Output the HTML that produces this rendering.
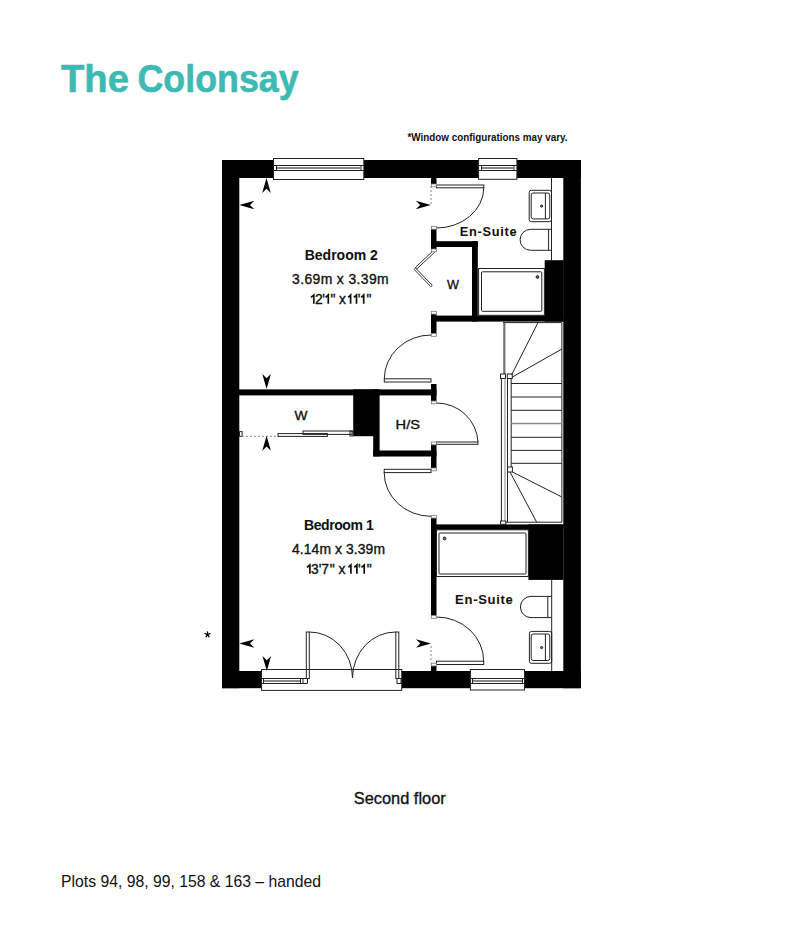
<!DOCTYPE html>
<html><head><meta charset="utf-8">
<style>
html,body{margin:0;padding:0;background:#fff;}
body{width:800px;height:950px;overflow:hidden;position:relative;}
svg{position:absolute;left:0;top:0;}
text{font-family:"Liberation Sans",sans-serif;}
</style></head>
<body>
<svg width="800" height="950" viewBox="0 0 800 950">
<!-- title -->
<text x="61" y="91.8" font-size="39.2" font-weight="bold" fill="#3fb9b3" stroke="#3fb9b3" stroke-width="0.6" textLength="68" lengthAdjust="spacingAndGlyphs">The</text>
<text x="137.5" y="91.8" font-size="39.2" font-weight="bold" fill="#3fb9b3" stroke="#3fb9b3" stroke-width="0.6" textLength="161.1" lengthAdjust="spacingAndGlyphs">Colonsay</text>
<text x="407.5" y="140.8" font-size="11" font-weight="bold" fill="#111" textLength="160" lengthAdjust="spacingAndGlyphs">*Window configurations may vary.</text>

<g id="walls" fill="#000">
  <!-- top wall -->
  <rect x="222" y="160" width="51.5" height="18"/>
  <rect x="363.8" y="160" width="115.2" height="18"/>
  <rect x="516.4" y="160" width="64.6" height="18"/>
  <!-- left wall -->
  <rect x="222" y="160" width="17.3" height="528.2"/>
  <!-- right wall -->
  <rect x="563.3" y="160" width="17.6" height="528.2"/>
  <!-- bottom wall -->
  <rect x="222" y="671" width="39.5" height="17.2"/>
  <rect x="401.7" y="671" width="68.7" height="17.2"/>
  <rect x="524.5" y="671" width="56.4" height="17.2"/>
  <!-- jambs on x 431-436.5 -->
  <rect x="431" y="177" width="5.5" height="7"/>
  <rect x="431" y="229" width="5.5" height="20"/>
  <rect x="431" y="314" width="5.5" height="19.5"/>
  <rect x="431" y="384" width="5.5" height="17"/>
  <rect x="431" y="445" width="5.5" height="23"/>
  <rect x="431" y="518" width="5.5" height="97.5"/>
  <rect x="431" y="666" width="5.5" height="6"/>
  <!-- wardrobe W top -->
  <rect x="436" y="241.2" width="41.8" height="5.8"/>
  <rect x="472" y="241.2" width="5.8" height="80.4"/>
  <rect x="436" y="315.6" width="127.5" height="6"/>
  <rect x="544.7" y="260.2" width="19" height="61.4"/>
  <!-- bedroom dividing wall -->
  <rect x="239" y="389.4" width="197.5" height="6"/>
  <rect x="353.2" y="389.4" width="25" height="46.8"/>
  <rect x="373.2" y="389.4" width="6.4" height="67"/>
  <rect x="373.2" y="450.5" width="63.3" height="6"/>
  <!-- bottom ensuite wall -->
  <rect x="436" y="524.4" width="127.5" height="5.4"/>
  <rect x="528.4" y="524.4" width="35" height="55.5"/>
</g>

<g id="thin" fill="none" stroke="#222" stroke-width="1">
  <!-- top windows -->
  <rect x="273.5" y="158.5" width="90.3" height="21" fill="#fff"/>
  <line x1="273.5" y1="165.5" x2="363.8" y2="165.5"/>
  <line x1="273.5" y1="170.5" x2="363.8" y2="170.5"/>
  <line x1="276.5" y1="165.5" x2="276.5" y2="170.5"/>
  <line x1="361" y1="165.5" x2="361" y2="170.5"/>
  <line x1="277" y1="168" x2="360.5" y2="168" stroke="#888" stroke-width="2"/>
  <rect x="478.6" y="158.5" width="38.3" height="20.8" fill="#fff"/>
  <line x1="478.6" y1="165.5" x2="516.9" y2="165.5"/>
  <line x1="478.6" y1="170.5" x2="516.9" y2="170.5"/>
  <line x1="481.5" y1="165.5" x2="481.5" y2="170.5"/>
  <line x1="514" y1="165.5" x2="514" y2="170.5"/>
  <line x1="482" y1="168" x2="513.5" y2="168" stroke="#888" stroke-width="2"/>
  <!-- bottom windows -->
  <rect x="470.4" y="669.5" width="54.1" height="20.5" fill="#fff"/>
  <line x1="470.4" y1="678.5" x2="524.5" y2="678.5"/>
  <line x1="470.4" y1="683.5" x2="524.5" y2="683.5"/>
  <line x1="472.5" y1="678.5" x2="472.5" y2="683.5"/>
  <line x1="522.5" y1="678.5" x2="522.5" y2="683.5"/>
  <line x1="473" y1="681" x2="522" y2="681" stroke="#888" stroke-width="2"/>
  <rect x="261.5" y="669.5" width="140.2" height="20.9" fill="#fff"/>
  <line x1="261.5" y1="678.5" x2="307.5" y2="678.5"/>
  <line x1="261.5" y1="683.5" x2="307.5" y2="683.5"/>
  <line x1="263.5" y1="678.5" x2="263.5" y2="683.5"/>
  <line x1="300.5" y1="678.5" x2="300.5" y2="683.5"/>
  <line x1="303" y1="678.5" x2="303" y2="683.5"/>
  <line x1="307.5" y1="678.5" x2="307.5" y2="683.5"/>
  <line x1="264" y1="681" x2="300" y2="681" stroke="#888" stroke-width="2"/>
  <rect x="397" y="678.5" width="4" height="5"/>
  <!-- french doors -->
  <rect x="306.3" y="632" width="3" height="46.5"/>
  <rect x="395.8" y="632" width="3" height="46.5"/>
  <path d="M309.3 632 A43 46 0 0 1 352.5 678"/>
  <path d="M395.8 632 A43 46 0 0 0 352.5 678"/>

  <!-- en-suite 1 door -->
  <rect x="436.5" y="185" width="47.3" height="2.8"/>
  <path d="M483.8 187.8 A47.3 40.5 0 0 1 436.5 228"/>
  <line x1="431" y1="186" x2="431" y2="204" stroke-dasharray="2 2" stroke="#888"/>
  <!-- bifold W door -->
  <polygon points="433.5,250.5 415.5,267.3 416.9,268.8 434.9,252" fill="#fff" stroke-width="0.9"/>
  <polygon points="415.5,268 432.3,285.3 430.9,286.7 414.1,269.4" fill="#fff" stroke-width="0.9"/>
  <!-- bedroom 2 door -->
  <rect x="384.3" y="378.8" width="46.7" height="3.2"/>
  <path d="M384.3 378.8 A46.7 44 0 0 1 431 335"/>
  <!-- H/S door -->
  <rect x="436.5" y="442" width="41.5" height="2.3"/>
  <path d="M436.5 403 A41.5 41 0 0 1 478 442"/>
  <!-- bedroom 1 door -->
  <rect x="384.2" y="469.3" width="46.8" height="3.3"/>
  <path d="M384.2 472.6 A46.8 43.7 0 0 0 431 516.3"/>
  <!-- en-suite 2 door -->
  <rect x="436.5" y="661.2" width="47.2" height="3.3"/>
  <path d="M436.5 617 A47.2 44.2 0 0 1 483.7 661.2"/>
  <line x1="431" y1="646" x2="431" y2="662" stroke-dasharray="2 2" stroke="#888"/>
  <!-- sliding wardrobe -->
  <rect x="278" y="433.6" width="49.4" height="2.8"/>
  <rect x="303" y="431" width="49" height="3.4"/>
  <rect x="239.5" y="431.6" width="2.6" height="4.7"/>
  <rect x="350" y="431" width="3" height="5"/>
  <line x1="242" y1="436.3" x2="276" y2="436.3" stroke-dasharray="2 2" stroke="#888"/>

  <!-- bath 1 -->
  <rect x="478.6" y="268.5" width="65.8" height="46.8"/>
  <rect x="481.5" y="271.8" width="60.3" height="39.5" rx="1"/>
  <circle cx="537.5" cy="277" r="1.4" fill="#777"/>
  <!-- bath 2 -->
  <rect x="436.5" y="529.8" width="91.9" height="46.7"/>
  <rect x="439" y="533" width="87" height="41" rx="1"/>
  <circle cx="444.5" cy="538.5" r="1.4" fill="#777"/>

  <!-- duct lines -->
  <line x1="551.5" y1="178" x2="551.5" y2="260.2"/>
  <line x1="551.7" y1="579.9" x2="551.7" y2="671"/>

  <!-- sink 1 -->
  <rect x="529.2" y="190.3" width="22.3" height="31.4" rx="2"/>
  <rect x="531.2" y="193" width="18.6" height="25.9" rx="2"/>
  <line x1="545.4" y1="193" x2="545.4" y2="218.9"/>
  <circle cx="541.6" cy="206.1" r="1.1" fill="#777"/>
  <!-- toilet 1 -->
  <path d="M551.5 229.3 L530.6 229.3 A10.5 10.5 0 0 0 530.6 250.3 L551.5 250.3"/>
  <line x1="548.6" y1="229.3" x2="548.6" y2="250.3"/>
  <!-- toilet 2 -->
  <path d="M551.7 596.4 L531 596.4 A10.6 10.6 0 0 0 531 617.6 L551.7 617.6"/>
  <line x1="547.8" y1="596.4" x2="547.8" y2="617.6"/>
  <!-- sink 2 -->
  <rect x="529.4" y="631.4" width="22.3" height="31.9" rx="2"/>
  <rect x="531.2" y="634" width="18.6" height="26.5" rx="2"/>
  <line x1="545.4" y1="634" x2="545.4" y2="660.5"/>
  <circle cx="541.6" cy="647.6" r="1.1" fill="#777"/>

  <!-- stairs -->
  <path d="M503 322.6 L561.9 322.6 L561.9 522.2 L505.8 522.2"/>
  <line x1="505" y1="322.6" x2="505" y2="374" stroke="#888"/>
  <line x1="504" y1="322.6" x2="504" y2="374"/>
  <rect x="500.5" y="374" width="5" height="4.5"/>
  <rect x="507.3" y="374" width="5" height="4.5"/>
  <line x1="501.4" y1="378.5" x2="501.4" y2="521"/>
  <line x1="505" y1="378.5" x2="505" y2="521" stroke="#888"/>
  <line x1="507.5" y1="378.5" x2="507.5" y2="467"/>
  <line x1="511.2" y1="378.5" x2="511.2" y2="467"/>
  <rect x="507.5" y="467" width="4.9" height="5"/>
  <line x1="507.5" y1="472" x2="507.5" y2="522.2"/>
  <rect x="500.6" y="521" width="5.2" height="3.3"/>
  <line x1="511.5" y1="375" x2="538" y2="322.6"/>
  <line x1="512.4" y1="377" x2="561.9" y2="349"/>
  <line x1="511.2" y1="383.5" x2="561.9" y2="383.5"/>
  <line x1="511.2" y1="397" x2="561.9" y2="397"/>
  <line x1="511.2" y1="410.3" x2="561.9" y2="410.3"/>
  <line x1="511.2" y1="423.6" x2="561.9" y2="423.6" stroke="#888" stroke-width="1.5"/>
  <line x1="511.2" y1="437.3" x2="561.9" y2="437.3"/>
  <line x1="511.2" y1="450.4" x2="561.9" y2="450.4"/>
  <line x1="511.2" y1="463.3" x2="561.9" y2="463.3"/>
  <line x1="510" y1="472" x2="536.7" y2="522.2"/>
  <line x1="512.4" y1="472" x2="561.9" y2="497"/>
</g>


<g id="caps" fill="#fff" stroke="#777" stroke-width="0.8">
  <rect x="431.3" y="184" width="5" height="2.8"/>
  <rect x="431.3" y="226.4" width="5" height="2.8"/>
  <rect x="431.3" y="249" width="5" height="2.8"/>
  <rect x="431.3" y="311.3" width="5" height="2.8"/>
  <rect x="431.3" y="333.5" width="5" height="2.8"/>
  <rect x="431.3" y="401" width="5" height="2.8"/>
  <rect x="431.3" y="442" width="5" height="2.8"/>
  <rect x="431.3" y="468" width="5" height="2.8"/>
  <rect x="431.3" y="515.3" width="5" height="2.8"/>
  <rect x="431.3" y="615.5" width="5" height="2.8"/>
  <rect x="431.3" y="663.2" width="5" height="2.8"/>
</g>
<g stroke="#000" stroke-width="1.3" stroke-linecap="round">
  <line x1="207.5" y1="632" x2="207.5" y2="635"/>
  <line x1="205" y1="633.5" x2="207.5" y2="634.6"/>
  <line x1="210" y1="633.5" x2="207.5" y2="634.6"/>
  <line x1="206" y1="636.8" x2="207.5" y2="634.6"/>
  <line x1="209" y1="636.8" x2="207.5" y2="634.6"/>
</g>
<g id="arrows" fill="#000">
  <path d="M266.5 178 L270.8 193 L266.5 188.7 L262.2 193 Z"/>
  <path d="M239.3 205 L254.3 200.7 L250.0 205 L254.3 209.3 Z"/>
  <path d="M430.8 205 L415.8 200.7 L420.1 205 L415.8 209.3 Z"/>
  <path d="M266.6 389 L270.90000000000003 374 L266.6 378.3 L262.3 374 Z"/>
  <path d="M266.6 435.8 L270.90000000000003 450.8 L266.6 446.5 L262.3 450.8 Z"/>
  <path d="M239.3 643.5 L254.3 639.2 L250.0 643.5 L254.3 647.8 Z"/>
  <path d="M431 643.5 L416 639.2 L420.3 643.5 L416 647.8 Z"/>
  <path d="M266.8 671 L271.1 656 L266.8 660.3 L262.5 656 Z"/>
</g>

<g fill="#111">
<g stroke="#111" stroke-width="0.05">
<text x="304.7" y="259.7" font-size="14" font-weight="bold" textLength="73.1" lengthAdjust="spacing">Bedroom 2</text>
<text x="304" y="529.7" font-size="14" font-weight="bold" textLength="69.7" lengthAdjust="spacing">Bedroom 1</text>
<text x="459.8" y="236.4" font-size="12.8" font-weight="bold" textLength="56.9" lengthAdjust="spacing">En-Suite</text>
<text x="455.1" y="603.6" font-size="13" font-weight="bold" textLength="57.7" lengthAdjust="spacing">En-Suite</text>
</g>
<g stroke="#111" stroke-width="0.35">
<text x="292" y="283.7" font-size="13.9" textLength="96.7" lengthAdjust="spacing">3.69m x 3.39m</text>
<text x="314.93 322.37 330.48 339.02 357.77 366.58" y="303.7" font-size="13.9">2'&quot;x'&quot;</text>
<path d="M311.00 297.40 L313.80 295.00 L313.80 303.7" fill="none" stroke-width="1.7"/><path d="M325.60 297.40 L328.30 295.00 L328.30 303.7" fill="none" stroke-width="1.7"/><path d="M348.20 297.40 L350.60 295.00 L350.60 303.7" fill="none" stroke-width="1.7"/><path d="M353.90 297.40 L356.50 295.00 L356.50 303.7" fill="none" stroke-width="1.7"/><path d="M361.30 297.40 L363.70 295.00 L363.70 303.7" fill="none" stroke-width="1.7"/>
<text x="292" y="553.7" font-size="13.9" textLength="93" lengthAdjust="spacing">4.14m x 3.39m</text>
<text x="310.98 318.67 321.13 329.63 338.62 358.07 366.73" y="573.7" font-size="13.9">3'7&quot;x'&quot;</text>
<path d="M306.90 567.40 L309.90 565.00 L309.90 573.7" fill="none" stroke-width="1.7"/><path d="M348.40 567.40 L350.90 565.00 L350.90 573.7" fill="none" stroke-width="1.7"/><path d="M354.30 567.40 L356.90 565.00 L356.90 573.7" fill="none" stroke-width="1.7"/><path d="M361.40 567.40 L364.20 565.00 L364.20 573.7" fill="none" stroke-width="1.7"/>
<text x="447" y="288.7" font-size="13.6" textLength="12" lengthAdjust="spacingAndGlyphs">W</text>
<text x="294.4" y="420.4" font-size="13" textLength="13" lengthAdjust="spacingAndGlyphs">W</text>
<text x="395.6" y="429" font-size="13.6" textLength="24.4" lengthAdjust="spacingAndGlyphs">H/S</text>
<text x="353.8" y="804" font-size="17.4" textLength="91.9" lengthAdjust="spacingAndGlyphs">Second floor</text>
</g>
<text x="61.1" y="886.9" font-size="17" textLength="259.9" lengthAdjust="spacingAndGlyphs">Plots 94, 98, 99, 158 &amp; 163 – handed</text>
</g>
</svg>
</body></html>
